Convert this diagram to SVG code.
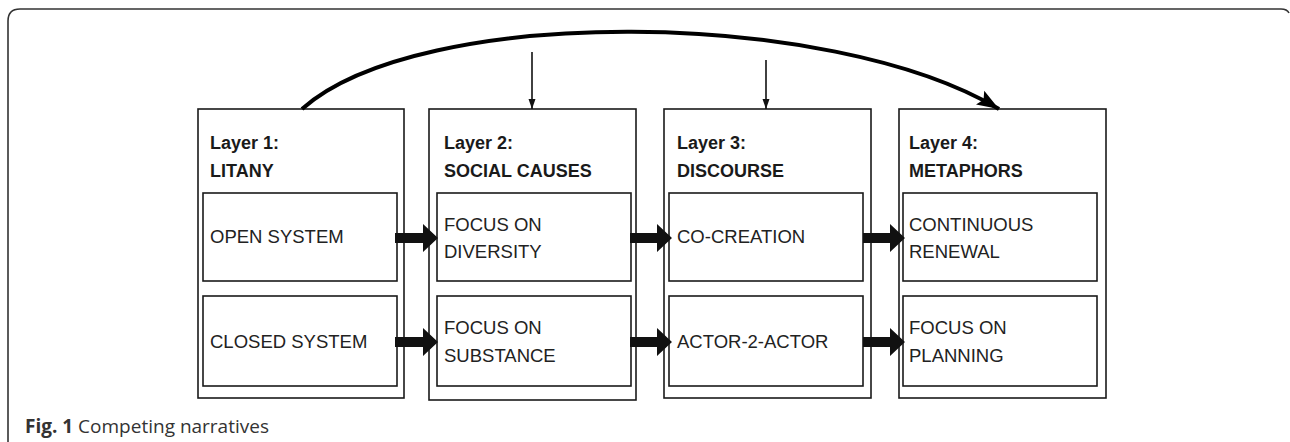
<svg xmlns="http://www.w3.org/2000/svg" width="1290" height="442" viewBox="0 0 1290 442">
<style>
.frame{fill:none;stroke:#333;stroke-width:1.6}
.outer{fill:#fff;stroke:#1a1a1a;stroke-width:1.6}
.inner{fill:#fff;stroke:#1a1a1a;stroke-width:1.6}
.hd{font-family:"Liberation Sans",Arial,sans-serif;font-weight:bold;font-size:18px;fill:#1a1a1a}
.tx{font-family:"Liberation Sans",Arial,sans-serif;font-size:18.5px;fill:#222}
.cap{font-family:"Open Sans","Liberation Sans",sans-serif;font-size:19px;fill:#333}
.thick{fill:#111}
.thin{stroke:#111;stroke-width:1.6;fill:none}
.curve{stroke:#000;stroke-width:4;fill:none}
</style>
<defs>
<marker id="thinHead" markerUnits="userSpaceOnUse" markerWidth="10" markerHeight="14" refX="10" refY="5" orient="auto" viewBox="0 0 10 10">
<path d="M0,1.5 L10,5 L0,8.5 Z" fill="#111"/>
</marker>
<marker id="bigHead" markerUnits="userSpaceOnUse" markerWidth="24" markerHeight="20" refX="22" refY="10" orient="auto" viewBox="0 0 24 20">
<path d="M0,2 L22,10 L0,18 L4,10 Z" fill="#000"/>
</marker>
</defs>
<path class="frame" d="M8,442 V21 Q8,9 20,9 H1281 Q1287,9 1289,13"/>
<g id="layer1">
<rect class="outer" x="198" y="109" width="206" height="289"/>
<text class="hd" x="210" y="149">Layer 1:</text>
<text class="hd" x="210" y="177">LITANY</text>
</g>
<g id="open-system">
<rect class="inner" x="203" y="193" width="194" height="88"/>
<text class="tx" x="210" y="243">OPEN SYSTEM</text>
</g>
<g id="closed-system">
<rect class="inner" x="203" y="296" width="194" height="90"/>
<text class="tx" x="210" y="348">CLOSED SYSTEM</text>
</g>
<g id="layer2">
<rect class="outer" x="429" y="109" width="207" height="291"/>
<text class="hd" x="444" y="149">Layer 2:</text>
<text class="hd" x="444" y="177">SOCIAL CAUSES</text>
</g>
<g id="focus-diversity">
<rect class="inner" x="437" y="193" width="194" height="88"/>
<text class="tx" x="444" y="231">FOCUS ON</text>
<text class="tx" x="444" y="258">DIVERSITY</text>
</g>
<g id="focus-substance">
<rect class="inner" x="437" y="296" width="194" height="90"/>
<text class="tx" x="444" y="334">FOCUS ON</text>
<text class="tx" x="444" y="362">SUBSTANCE</text>
</g>
<g id="layer3">
<rect class="outer" x="664" y="109" width="207" height="289"/>
<text class="hd" x="677" y="149">Layer 3:</text>
<text class="hd" x="677" y="177">DISCOURSE</text>
</g>
<g id="co-creation">
<rect class="inner" x="669" y="193" width="194" height="88"/>
<text class="tx" x="677" y="243">CO-CREATION</text>
</g>
<g id="actor-2-actor">
<rect class="inner" x="669" y="296" width="194" height="90"/>
<text class="tx" x="677" y="348">ACTOR-2-ACTOR</text>
</g>
<g id="layer4">
<rect class="outer" x="899" y="109" width="207" height="289"/>
<text class="hd" x="909" y="149">Layer 4:</text>
<text class="hd" x="909" y="177">METAPHORS</text>
</g>
<g id="continuous-renewal">
<rect class="inner" x="903" y="193" width="194" height="88"/>
<text class="tx" x="909" y="231">CONTINUOUS</text>
<text class="tx" x="909" y="258">RENEWAL</text>
</g>
<g id="focus-planning">
<rect class="inner" x="903" y="296" width="194" height="90"/>
<text class="tx" x="909" y="334">FOCUS ON</text>
<text class="tx" x="909" y="362">PLANNING</text>
</g>
<g id="connectors">
<path class="thick" d="M395,233 H423 V224 L438,238 L423,252 V243 H395 Z"/>
<path class="thick" d="M395,337 H423 V328 L438,342 L423,356 V347 H395 Z"/>
<path class="thick" d="M630,233 H657 V224 L672,238 L657,252 V243 H630 Z"/>
<path class="thick" d="M630,337 H657 V328 L672,342 L657,356 V347 H630 Z"/>
<path class="thick" d="M863,233 H890 V224 L905,238 L890,252 V243 H863 Z"/>
<path class="thick" d="M863,337 H890 V328 L905,342 L890,356 V347 H863 Z"/>
<line class="thin" x1="532" y1="52" x2="532" y2="109" marker-end="url(#thinHead)"/>
<line class="thin" x1="766" y1="60" x2="766" y2="109" marker-end="url(#thinHead)"/>
<path class="curve" d="M302,109 C420,4 830,8 999,109" marker-end="url(#bigHead)"/>
</g>
<g id="caption">
<text class="cap" x="25" y="433"><tspan font-weight="bold">Fig. 1</tspan> Competing narratives</text>
</g>
</svg>
